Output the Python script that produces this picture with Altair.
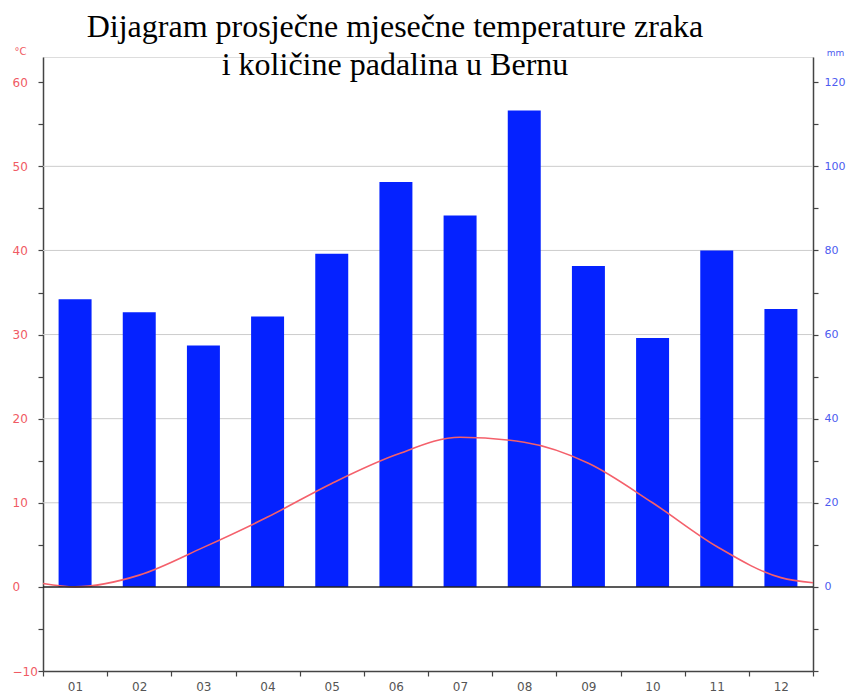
import altair as alt
import pandas as pd

months = list(range(1, 13))
precip_mm = [68.4, 65.3, 57.4, 64.3, 79.2, 96.3, 88.3, 113.3, 76.3, 59.2, 80.0, 66.1]
temp_x = [0.5, 1, 2, 3, 4, 5, 6, 7, 8, 9, 10, 11, 12, 12.5]
temp_c = [0.4, 0.0, 1.4, 4.7, 8.3, 12.3, 15.7, 17.8, 17.2, 14.7, 10.0, 4.8, 1.1, 0.5]
grid_c = [10, 20, 30, 40, 50]
temp_ticks = [-10, -5, 0, 5, 10, 15, 20, 25, 30, 35, 40, 45, 50, 55, 60]
mm_ticks = [-20, -10, 0, 10, 20, 30, 40, 50, 60, 70, 80, 90, 100, 110, 120]
x_ticks = [0.5, 1.5, 2.5, 3.5, 4.5, 5.5, 6.5, 7.5, 8.5, 9.5, 10.5, 11.5, 12.5]
title_lines = ["Dijagram prosječne mjesečne temperature zraka", "i količine padalina u Bernu"]

HALF = 0.257
bars_df = pd.DataFrame({"month": months, "mm": precip_mm})
temp_df = pd.DataFrame({"x": temp_x, "t": temp_c})
grid_df = pd.DataFrame({"t": grid_c})
zero_df = pd.DataFrame({"t": [0]})

xscale = alt.Scale(domain=[0.5, 12.5], nice=False, zero=False)
tscale = alt.Scale(domain=[-10, 63], nice=False, zero=False)
mscale = alt.Scale(domain=[-20, 126], nice=False, zero=False)

AX = "#444444"

x_axis = alt.Axis(
    values=x_ticks, title=None, grid=False,
    labelExpr="datum.value > 12 ? '' : (datum.value < 9 ? '0' : '') + format(datum.value + 0.5, 'd')",
    labelOffset=32, labelFlush=False, labelOverlap=False,
    labelColor="#555555", labelFont="DejaVu Sans", labelFontSize=12, labelPadding=5,
    tickSize=5, tickColor=AX, domainColor=AX, domainWidth=1.5, tickWidth=1.2,
)

grid = alt.Chart(grid_df).mark_rule(color="#cccccc", strokeWidth=1).encode(
    y=alt.Y("t:Q", scale=tscale, axis=None)
)

bars = alt.Chart(bars_df).mark_bar(color="#0522ff").transform_calculate(
    x0=f"datum.month - {HALF}", x1=f"datum.month + {HALF}"
).encode(
    x=alt.X("x0:Q", scale=xscale, axis=x_axis),
    x2="x1:Q",
    y=alt.Y("mm:Q", scale=mscale, axis=alt.Axis(
        orient="right", values=mm_ticks, grid=False,
        labelExpr="(datum.value >= 0 && datum.value % 20 == 0) ? format(datum.value, 'd') : ''",
        labelColor="#4d5cf0", labelFont="DejaVu Sans", labelFontSize=11, labelPadding=6,
        tickSize=5, tickColor=AX, domainColor=AX, domainWidth=1.5, tickWidth=1.2,
        title="mm", titleAngle=0, titleColor="#4d5cf0", titleFont="DejaVu Sans",
        titleFontSize=9, titleFontWeight="normal", titleX=22, titleY=-5,
        titleAlign="center", titleBaseline="middle",
    )),
    y2=alt.datum(0),
)

line = alt.Chart(temp_df).mark_line(color="#f4606b", strokeWidth=1.6, interpolate="monotone").encode(
    x=alt.X("x:Q", scale=xscale, axis=x_axis),
    y=alt.Y("t:Q", scale=tscale, axis=alt.Axis(
        orient="left", values=temp_ticks, grid=False,
        labelExpr="datum.value % 10 == 0 ? format(datum.value, 'd') : ''",
        labelAlign="left",
        labelColor="#f05a64", labelFont="DejaVu Sans", labelFontSize=12, labelPadding=26,
        tickSize=5, tickColor=AX, domainColor=AX, domainWidth=1.5, tickWidth=1.2,
        title="°C", titleAngle=0, titleColor="#f05a64", titleFont="DejaVu Sans",
        titleFontSize=10, titleFontWeight="normal", titleX=-23, titleY=-6,
        titleAlign="center", titleBaseline="middle",
    )),
)

zero = alt.Chart(zero_df).mark_rule(color="#222222", strokeWidth=1.5).encode(
    y=alt.Y("t:Q", scale=tscale, axis=None)
)

chart = alt.layer(grid, bars, line, zero).resolve_scale(y="independent").properties(
    width=770, height=614,
    autosize=alt.AutoSizeParams(type="none"),
    padding={"left": 35, "top": 49, "right": 33, "bottom": 30},
    title=alt.TitleParams(
        text=title_lines, font="Liberation Serif", fontSize=32, fontWeight="normal",
        color="black", anchor="middle", dx=-33, offset=-36, lineHeight=38,
    ),
).configure_view(stroke=None).configure(background="white")

chart.save("out.html", embed_options={"renderer": "svg", "actions": False})
